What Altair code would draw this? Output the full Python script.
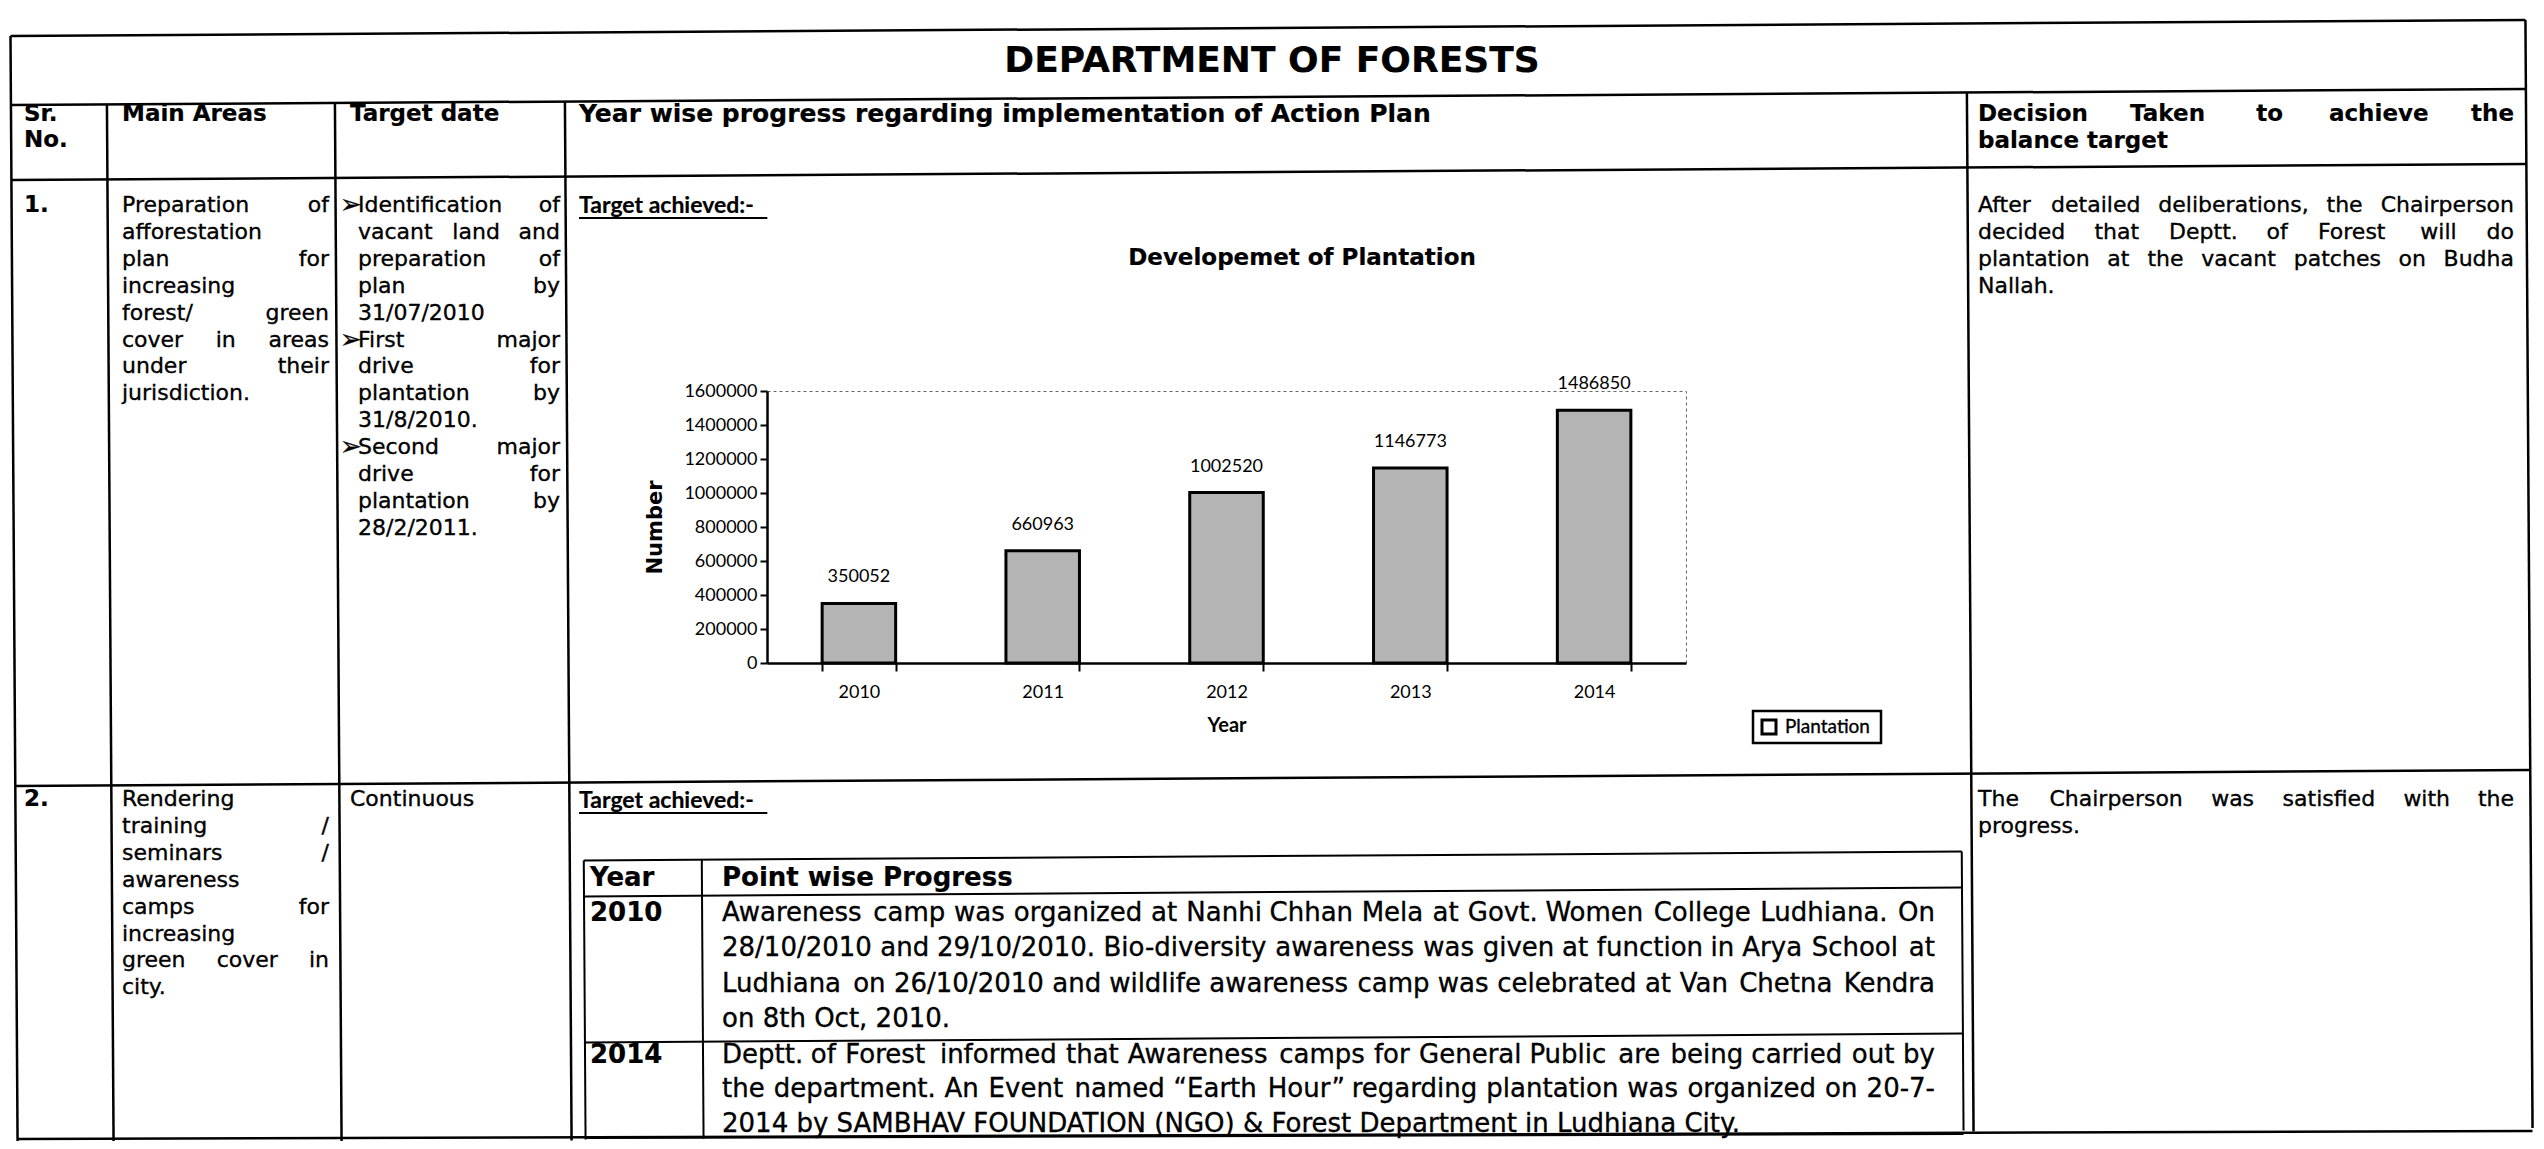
import math
import altair as alt
import pandas as pd

# ---------------- chart data ----------------
years = ["2010", "2011", "2012", "2013", "2014"]
plantation = [350052, 660963, 1002520, 1146773, 1486850]
y_ticks = [0, 200000, 400000, 600000, 800000, 1000000, 1200000, 1400000, 1600000]
series_name = "Plantation"
chart_title = "Developemet of Plantation"
x_title = "Year"
y_title = "Number"

# ---------------- table text ----------------
page_title = "DEPARTMENT OF FORESTS"
head_sr = ["Sr.", "No."]
head_main = "Main Areas"
head_target = "Target date"
head_progress = "Year wise progress regarding implementation of Action Plan"
head_decision = ["Decision Taken to achieve the", "balance target"]
row_numbers = ["1.", "2."]
target_achieved = "Target achieved:-"
bullet = "\u27a2"

row1_main = ["Preparation of", "afforestation", "plan for", "increasing", "forest/ green",
             "cover in areas", "under their", "jurisdiction."]
row1_target = [["Identification of", "vacant land and", "preparation of", "plan by", "31/07/2010"],
               ["First major", "drive for", "plantation by", "31/8/2010."],
               ["Second major", "drive for", "plantation by", "28/2/2011."]]
row1_decision = ["After detailed deliberations, the Chairperson",
                 "decided that Deptt. of Forest will do",
                 "plantation at the vacant patches on Budha",
                 "Nallah."]
row2_main = ["Rendering", "training /", "seminars /", "awareness", "camps for", "increasing",
             "green cover in", "city."]
row2_target = ["Continuous"]
row2_decision = ["The Chairperson was satisfied with the", "progress."]
inner_head = ["Year", "Point wise Progress"]
inner_years = ["2010", "2014"]
inner_2010 = ["Awareness camp was organized at Nanhi Chhan Mela at Govt. Women College Ludhiana. On",
              "28/10/2010 and 29/10/2010. Bio-diversity awareness was given at function in Arya School at",
              "Ludhiana on 26/10/2010 and wildlife awareness camp was celebrated at Van Chetna Kendra",
              "on 8th Oct, 2010."]
inner_2014 = ["Deptt. of Forest informed that Awareness camps for General Public are being carried out by",
              "the department. An Event named \u201cEarth Hour\u201d regarding plantation was organized on 20-7-",
              "2014 by SAMBHAV  FOUNDATION (NGO) & Forest Department in Ludhiana City."]

# ---------------- layout (page pixels) ----------------
W, H = 2528, 1133
PLOT_L, PLOT_T, PLOT_W, PLOT_H = 767, 391, 919, 272
PAD_L, PAD_T = PLOT_L - 8, PLOT_T - 8
PAD_R, PAD_B = W - PAD_L - PLOT_W, H - PAD_T - PLOT_H
TILT = -0.0064
CX, CY = 1272, 580

STYLES = {
    "title": ("DejaVu Sans", 36, "bold", 1.0),
    "head": ("DejaVu Sans", 23, "bold", 1.0),
    "head2": ("DejaVu Sans", 25, "bold", 1.0),
    "body": ("DejaVu Sans", 22, "normal", 1.0),
    "bullet": ("DejaVu Sans", 26, "normal", 1.0),
    "ta": ("Lato", 23, "bold", 0.85),
    "inhead": ("DejaVu Sans", 26, "bold", 1.0),
    "inbody": ("DejaVu Sans", 26, "normal", 1.0),
    "ctitle": ("DejaVu Sans", 23, "bold", 1.0),
    "legend": ("Lato", 19, "normal", 0.85),
}
_W = {" ": 0.318, "i": 0.278, "j": 0.278, "l": 0.278, ".": 0.318, ",": 0.318, ":": 0.337,
      ";": 0.337, "'": 0.275, "!": 0.4, "f": 0.352, "t": 0.392, "r": 0.411, "I": 0.295,
      "J": 0.295, "/": 0.337, "-": 0.361, "(": 0.39, ")": 0.39, "m": 0.974, "w": 0.818,
      "W": 0.989, "M": 0.863, "s": 0.521, "c": 0.55, "z": 0.525, "v": 0.592, "y": 0.592,
      "k": 0.579, "x": 0.592, "\u201c": 0.5, "\u201d": 0.5, "&": 0.78}


def cw(ch):
    if ch in _W:
        return _W[ch]
    if ch.isdigit():
        return 0.636
    if ch.isupper():
        return 0.72
    return 0.62


def tw(s, style):
    font, size, weight, f = STYLES[style]
    w = sum(cw(c) for c in s) * size * f
    return w * (1.08 if weight == "bold" else 1.0)


items = []


def put(x, y, text, style, align="left"):
    items.append({"x": x, "y": y, "t": text, "style": style, "align": align})


def para(lines, left, right, y0, dy, style):
    n = len(lines)
    for i, line in enumerate(lines):
        y = y0 + i * dy
        words = line.split()
        if i == n - 1 or len(words) < 2:
            put(left, y, line, style)
            continue
        widths = [tw(w, style) for w in words]
        gap = (right - left - sum(widths)) / (len(words) - 1)
        x = left
        for j, w in enumerate(words):
            if j == len(words) - 1:
                put(right, y, w, style, "right")
            else:
                put(x, y, w, style)
            x += widths[j] + gap


DY = 26.9
# title and headers
put(1272, 61, page_title, "title", "center")
put(24, 114, head_sr[0], "head")
put(24, 140, head_sr[1], "head")
put(122, 114, head_main, "head")
put(350, 114, head_target, "head")
put(579, 114, head_progress, "head2")
para(head_decision, 1978, 2514, 114, 26.5, "head")
# row 1
put(24, 205, row_numbers[0], "head")
para(row1_main, 122, 329, 205, DY, "body")
yy = 205
for chunk in row1_target:
    put(340, yy, bullet, "bullet")
    para(chunk, 358, 560, yy, DY, "body")
    yy += DY * len(chunk)
put(579, 206, target_achieved, "ta")
para(row1_decision, 1978, 2514, 205, DY, "body")
put(1302, 258, chart_title, "ctitle", "center")
# legend label (drawn next to its swatch below)
put(1785, 727, series_name, "legend")
# row 2
put(24, 799, row_numbers[1], "head")
para(row2_main, 122, 329, 799, DY, "body")
put(350, 799, row2_target[0], "body")
put(579, 801, target_achieved, "ta")
para(row2_decision, 1978, 2514, 799, DY, "body")
# inner table
put(590, 878, inner_head[0], "inhead")
put(722, 878, inner_head[1], "inhead")
put(590, 913, inner_years[0], "inhead")
para(inner_2010, 722, 1935, 913, 35.3, "inbody")
put(590, 1055, inner_years[1], "inhead")
para(inner_2014, 722, 1935, 1055, 34.3, "inbody")


def rot(x, y):
    dx, dy = x - CX, y - CY
    c, s = math.cos(TILT), math.sin(TILT)
    return CX + dx * c - dy * s, CY + dx * s + dy * c


seg = []


def hline(x1, x2, y, w=2.5):
    a, b = rot(x1, y), rot(x2, y)
    seg.append({"x1": a[0], "y1": a[1], "x2": b[0], "y2": b[1], "w": w})


def vline(x, y1, y2, w=2.5):
    a, b = rot(x, y1), rot(x, y2)
    seg.append({"x1": a[0], "y1": a[1], "x2": b[0], "y2": b[1], "w": w})


L, R, T, B = 14, 2529, 28, 1132
for yv in [T, 97, 172, 778]:
    hline(L, R, yv)
# bottom edge of the sheet, kept nearly level so it stays on the page
seg.append({"x1": rot(L, B)[0], "y1": 1139, "x2": rot(R, B)[0], "y2": 1131, "w": 2.5})
for xv in [L, R]:
    vline(xv, T, B + 4)
for xv in [110, 338, 568, 1970]:
    vline(xv, 97, B + 4)
for yv in [856, 892, 1038]:
    hline(582, 1960, yv, 2)
seg.append({"x1": rot(582, 1136)[0], "y1": 1138, "x2": rot(1960, 1136)[0], "y2": 1134, "w": 2})
for xv in [582, 700, 1960]:
    vline(xv, 856, 1135, 2)
seg.append({"x1": 579, "y1": 218, "x2": 579 + tw(target_achieved, "ta"), "y2": 218, "w": 1.8})
seg.append({"x1": 579, "y1": 813, "x2": 579 + tw(target_achieved, "ta"), "y2": 813, "w": 1.8})

PX = alt.Scale(domain=[8, 8 + W], range=[-PAD_L, W - PAD_L], zero=False, nice=False)
PY = alt.Scale(domain=[8, 8 + H], range=[-PAD_T, H - PAD_T], zero=False, nice=False)

rules = alt.Chart(pd.DataFrame(seg)).mark_rule(color="black").encode(
    x=alt.X("x1:Q", scale=PX, axis=None), x2="x2:Q",
    y=alt.Y("y1:Q", scale=PY, axis=None), y2="y2:Q",
    strokeWidth=alt.StrokeWidth("w:Q", scale=None),
)

# legend frame and swatch
legend_boxes = pd.DataFrame([
    {"x1": 1753, "x2": 1881, "y1": 711, "y2": 743, "w": 2.5},
    {"x1": 1762, "x2": 1776, "y1": 720, "y2": 734, "w": 3},
])
legend_rects = alt.Chart(legend_boxes).mark_rect(fill="white", stroke="black").encode(
    x=alt.X("x1:Q", scale=PX, axis=None), x2="x2:Q",
    y=alt.Y("y1:Q", scale=PY, axis=None), y2="y2:Q",
    strokeWidth=alt.StrokeWidth("w:Q", scale=None),
)

text_layers = []
df_items = pd.DataFrame(items)
for (style, align), g in df_items.groupby(["style", "align"]):
    font, size, weight, _ = STYLES[style]
    text_layers.append(
        alt.Chart(g[["x", "y", "t"]]).mark_text(
            font=font, fontSize=size, fontWeight=weight, align=align,
            baseline="middle", color="black", stroke="black",
            strokeWidth=0.35 if weight == "normal" else 0.2
        ).encode(
            x=alt.X("x:Q", scale=PX, axis=None),
            y=alt.Y("y:Q", scale=PY, axis=None),
            text="t:N",
        )
    )

table = alt.layer(rules, legend_rects, *text_layers)

# ---------------- bar chart ----------------
bar_df = pd.DataFrame({"Year": years, "Plantation": plantation})
xs = alt.Scale(domain=years, paddingInner=0.6, paddingOuter=0.3)
ys = alt.Scale(domain=[0, 1600000], nice=False, zero=True)
x_axis = alt.Axis(
    title=x_title, labelAngle=0, tickBand="extent", tickSize=8, tickWidth=2,
    tickColor="black", domainColor="black", domainWidth=2.5, labelFont="Lato",
    labelFontSize=18, labelColor="black", labelPadding=12, titleFont="Lato",
    titleFontSize=20, titleFontWeight="bold", titleColor="black", titlePadding=14,
    grid=False)
y_axis = alt.Axis(
    title=y_title, values=y_ticks, format="d", tickSize=7, tickWidth=2,
    tickColor="black", domainColor="black", domainWidth=2.5, labelFont="Lato",
    labelFontSize=18, labelColor="black", labelPadding=3, labelOverlap=False,
    titleFont="DejaVu Sans", titleFontSize=21, titleFontWeight="bold",
    titleColor="black", titlePadding=18, grid=False)

bars = alt.Chart(bar_df).mark_bar(fill="#b4b4b4", stroke="black", strokeWidth=3).encode(
    x=alt.X("Year:N", scale=xs, sort=years, axis=x_axis),
    y=alt.Y("Plantation:Q", scale=ys, axis=y_axis),
)
labels = alt.Chart(bar_df).mark_text(dy=-26, font="Lato", fontSize=18, color="black").encode(
    x=alt.X("Year:N", scale=xs, sort=years, axis=x_axis),
    y=alt.Y("Plantation:Q", scale=ys, axis=y_axis),
    text=alt.Text("Plantation:Q", format="d"),
)
core = alt.layer(bars, labels)

chart = alt.layer(core, table).resolve_scale(x="independent", y="independent").properties(
    width=PLOT_W, height=PLOT_H,
    padding={"left": PAD_L, "top": PAD_T, "right": PAD_R, "bottom": PAD_B},
    autosize=alt.AutoSizeParams(type="none"),
).configure_view(stroke="#666666", strokeDash=[3, 3], strokeWidth=1)

chart.save("out.html", embed_options={"renderer": "svg", "actions": False})
